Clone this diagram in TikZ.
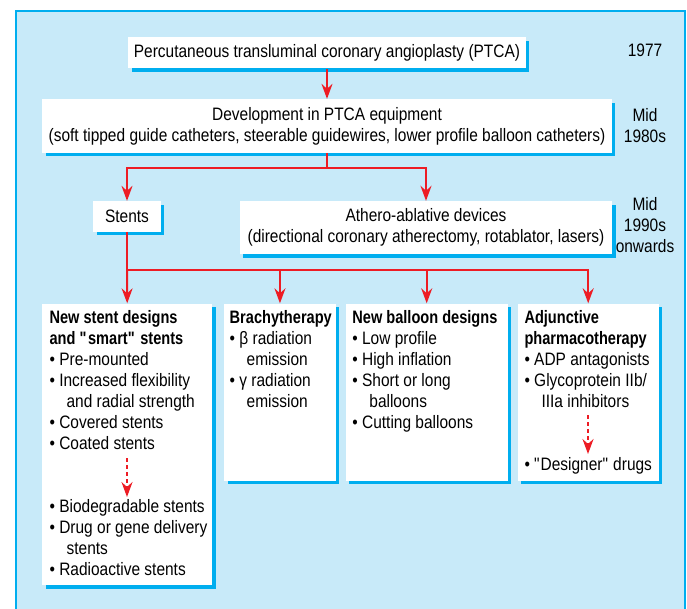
\documentclass[tikz,border=0pt]{standalone}
\usepackage{fontspec}
\setmainfont{Liberation Sans}[FakeStretch=0.86, BoldFeatures={FakeStretch=0.81}]
\usetikzlibrary{arrows.meta,calc,shadows}
\definecolor{panelfill}{RGB}{200,234,249}
\definecolor{cyanb}{RGB}{0,174,239}
\definecolor{redarr}{RGB}{237,28,36}
\tikzset{
  box/.style={fill=white, inner sep=0pt, align=center,
    general shadow={fill=cyanb, shadow xshift=3.5pt, shadow yshift=-3.5pt}},
  bbox/.style={box, anchor=north west},
  txt/.style={inner sep=0pt, align=left, anchor=north west},
  yr/.style={inner sep=0pt, align=center},
  arr/.style={draw=redarr, line width=2pt, -{Stealth[length=15pt,width=11pt,inset=5pt]}},
  lin/.style={draw=redarr, line width=2pt},
  darr/.style={arr, dash pattern=on 4pt off 3pt},
}
\newcommand{\ind}{\hspace*{17pt}}
\newcommand{\qq}{\textquotedbl}
\begin{document}
\begin{tikzpicture}[x=1pt, y=-1pt, font=\fontsize{18}{21}\selectfont]
\useasboundingbox (0,0) rectangle (687,608);
\fill[panelfill] (16,11) rectangle (685,620);
\draw[cyanb, line width=1.3pt] (16,620) -- (16,11) -- (685,11) -- (685,620);

% top level boxes
\node[box, minimum width=397.6pt, minimum height=31pt] (ptca) at (327,52.8)
  {Percutaneous transluminal coronary angioplasty (PTCA)};
\node[box, minimum width=569.3pt, minimum height=53.7pt] (dev) at (327,125.9)
  {Development in PTCA equipment\\(soft tipped guide catheters, steerable guidewires, lower profile balloon catheters)};
\node[box, minimum width=67.4pt, minimum height=30.7pt] (stents) at (127,216.4) {Stents};
\node[box, minimum width=372.9pt, minimum height=53pt] (athero) at (426,227.5)
  {Athero-ablative devices\\(directional coronary atherectomy, rotablator, lasers)};

% year labels
\node[yr] (y1) at (645,50.5) {1977};
\node[yr] (y2) at (645,125.5) {Mid\\1980s};
\node[yr] (y3) at (645,225.5) {Mid\\1990s\\onwards};

% bottom boxes
\node[bbox, minimum width=170pt, minimum height=281.7pt] (b1) at (42,303.3) {};
\node[bbox, minimum width=111.5pt, minimum height=177.4pt] (b2) at (224,303.3) {};
\node[bbox, minimum width=162pt, minimum height=177.4pt] (b3) at (345.5,303.3) {};
\node[bbox, minimum width=141pt, minimum height=177.4pt] (b4) at (517.5,303.3) {};

\node[txt] (t1) at ($(b1.north west)+(7.4,7.2)$) {\textbf{New stent designs}\\\textbf{and \qq smart\qq{} stents}\\
  • Pre-mounted\\• Increased flexibility\\\ind and radial strength\\• Covered stents\\• Coated stents\\
  \mbox{}\\\mbox{}\\• Biodegradable stents\\• Drug or gene delivery\\\ind stents\\• Radioactive stents};
\node[txt] (t2) at ($(b2.north west)+(5.5,7.2)$) {\textbf{Brachytherapy}\\• β radiation\\\ind emission\\• γ radiation\\\ind emission};
\node[txt] (t3) at ($(b3.north west)+(6.7,7.2)$) {\textbf{New balloon designs}\\• Low profile\\• High inflation\\• Short or long\\\ind balloons\\• Cutting balloons};
\node[txt] (t4) at ($(b4.north west)+(6.8,7.2)$) {\textbf{Adjunctive}\\\textbf{pharmacotherapy}\\• ADP antagonists\\• Glycoprotein IIb/\\\ind IIIa inhibitors\\\mbox{}\\\mbox{}\\• \qq Designer\qq{} drugs};

% connectors
\coordinate (j1) at (327,167.7);
\coordinate (j2) at (127,270);
\draw[arr] (ptca.south) -- (dev.north);
\draw[lin] (dev.south) -- (j1);
\draw[arr] (j1) -| (stents.north);
\draw[arr] (j1) -| (athero.north);
\draw[lin] (stents.south) -- (j2);
\draw[arr] (j2) -- (b1.north);
\draw[arr] (j2) -| (b2.north);
\draw[arr] (j2) -| (b3.north);
\draw[arr] (j2) -| (b4.north);

% dashed arrows inside boxes
\coordinate (d1a) at (127,458);
\coordinate (d1b) at (127,497);
\coordinate (d4a) at (588,415);
\coordinate (d4b) at (588,454);
\draw[darr] (d1a) -- (d1b);
\draw[darr] (d4a) -- (d4b);
\end{tikzpicture}
\end{document}
